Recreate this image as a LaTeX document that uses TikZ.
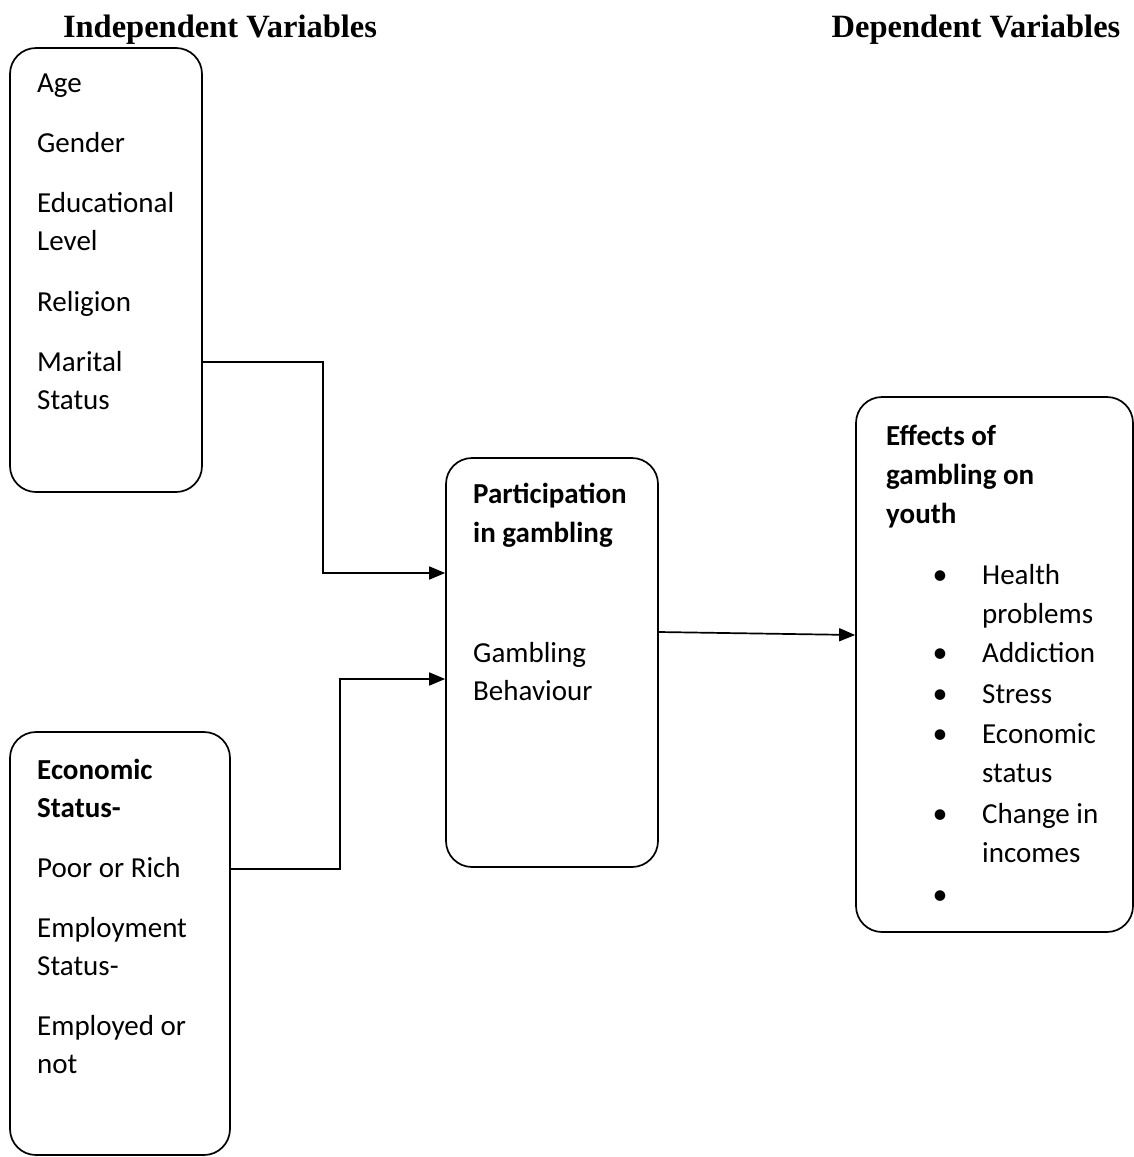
\documentclass[tikz,border=0pt]{standalone}
\usepackage{fontspec}
\setmainfont{Carlito}
\newfontfamily\headfont{Liberation Serif}
\usetikzlibrary{arrows.meta}
\tikzset{
  box/.style={draw, line width=1.7pt, rounded corners=26pt, inner sep=0pt},
  txt/.style={anchor=base west, inner sep=0pt, font=\fontsize{29}{35}\selectfont},
  btxt/.style={txt, font=\fontsize{29}{35}\selectfont\bfseries},
  head/.style={anchor=base, inner sep=0pt, font=\headfont\fontsize{32.5}{38}\selectfont\bfseries},
  bul/.style={anchor=base, inner sep=0pt, font=\fontsize{30}{35}\selectfont},
  conn/.style={line width=1.7pt},
  arr/.style={conn, -{Triangle[length=16pt,width=13pt]}}
}
\begin{document}
\begin{tikzpicture}[x=1pt,y=-1pt]
\useasboundingbox (0,0) rectangle (1134,1157);
% headings
\node[head] (h1) at (220,37) {Independent Variables};
\node[head] (h2) at (976,37) {Dependent Variables};
% boxes
\node[box, minimum width=192pt, minimum height=444pt] (indep) at (106,270) {};
\node[box, minimum width=220pt, minimum height=423pt] (econ) at (120,943.5) {};
\node[box, minimum width=212pt, minimum height=409pt] (part) at (552,662.5) {};
\node[box, minimum width=277pt, minimum height=535pt] (eff) at (994.5,664.5) {};
% box 1 text
\node[txt] (t1) at (37,92) {Age};
\node[txt] (t2) at (37,152) {Gender};
\node[txt] (t3) at (37,212) {Educational};
\node[txt] (t4) at (37,250) {Level};
\node[txt] (t5) at (37,311) {Religion};
\node[txt] (t6) at (37,371) {Marital};
\node[txt] (t7) at (37,409) {Status};
% box 2 text
\node[btxt] (e1) at (37,779) {Economic};
\node[btxt] (e2) at (37,817) {Status-};
\node[txt] (e3) at (37,877) {Poor or Rich};
\node[txt] (e4) at (37,937) {Employment};
\node[txt] (e5) at (37,975) {Status-};
\node[txt] (e6) at (37,1035) {Employed or};
\node[txt] (e7) at (37,1073) {not};
% box 3 text
\node[btxt] (p1) at (473,503) {Participation};
\node[btxt] (p2) at (473,542) {in gambling};
\node[txt] (p3) at (473,662) {Gambling};
\node[txt] (p4) at (473,700) {Behaviour};
% box 4 text
\node[btxt] (f1) at (886,445) {Effects of};
\node[btxt] (f2) at (886,484) {gambling on};
\node[btxt] (f3) at (886,523) {youth};
\node[bul] (b1) at (940,584) {•};
\node[txt] (f4) at (982,584) {Health};
\node[txt] (f5) at (982,623) {problems};
\node[bul] (b2) at (940,662) {•};
\node[txt] (f6) at (982,662) {Addiction};
\node[bul] (b3) at (940,703) {•};
\node[txt] (f7) at (982,703) {Stress};
\node[bul] (b4) at (940,743) {•};
\node[txt] (f8) at (982,743) {Economic};
\node[txt] (f9) at (982,782) {status};
\node[bul] (b5) at (940,823) {•};
\node[txt] (f10) at (982,823) {Change in};
\node[txt] (f11) at (982,862) {incomes};
\node[bul] (b6) at (940,904) {•};
% connectors
\coordinate (k1) at (323,362);
\coordinate (k2) at (323,573);
\coordinate (k3) at (340,869);
\coordinate (k4) at (340,679);
\draw[arr] (indep.east |- k1) -- (k1) -- (k2) -- (part.west |- k2);
\draw[arr] (econ.east |- k3) -- (k3) -- (k4) -- (part.west |- k4);
\draw[arr] (part.east |- 0,632) -- (eff.west |- 0,635);
\end{tikzpicture}
\end{document}
